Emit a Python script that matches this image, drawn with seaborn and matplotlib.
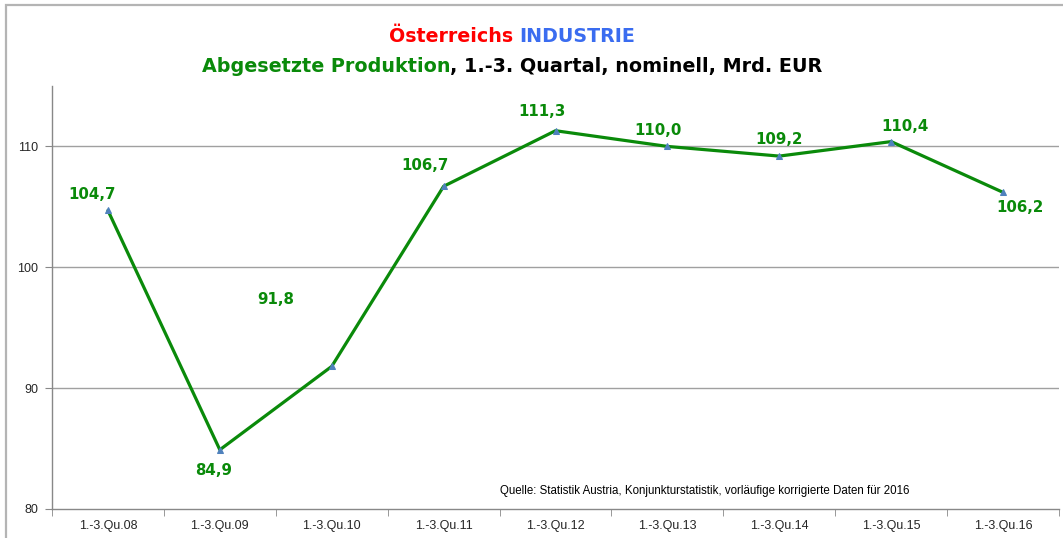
import matplotlib
matplotlib.use("Agg")
import matplotlib.pyplot as plt
import seaborn as sns
import pandas as pd
from matplotlib.patches import Rectangle
from matplotlib.ticker import FixedLocator

# data
quarters = ['1.-3.Qu.08', '1.-3.Qu.09', '1.-3.Qu.10', '1.-3.Qu.11', '1.-3.Qu.12',
            '1.-3.Qu.13', '1.-3.Qu.14', '1.-3.Qu.15', '1.-3.Qu.16']
produktion = [104.7, 84.9, 91.8, 106.7, 111.3, 110.0, 109.2, 110.4, 106.2]
y_ticks = [80, 90, 100, 110]

# label offsets in pixels (dx, dy) from the point
offsets = [(-16, 16), (-6, -21), (-56, 67), (-19, 21), (-14, 19),
           (-9, 16), (0, 17), (14, 15), (17, -15)]

sns.set_style("white")
plt.rcParams['font.family'] = ['DejaVu Sans']

W, H = 1063, 538
fig = plt.figure(figsize=(W / 100, H / 100), dpi=100)

# outer chart frame (only left and top visible)
fig.patches.append(Rectangle((6 / W, -0.1), 1.2, (H - 5) / H + 0.1, transform=fig.transFigure,
                             fill=False, edgecolor='#b4b4b4', linewidth=1.6))

ax = fig.add_axes([52 / W, (H - 509) / H, (1059 - 52) / W, (509 - 86) / H])

df = pd.DataFrame({'pos': range(len(quarters)), 'wert': produktion})
sns.lineplot(data=df, x='pos', y='wert', ax=ax, color='#0a8a0a', linewidth=2.3,
             marker='^', markersize=5, markerfacecolor='#4f81bd', markeredgecolor='#4f81bd')

ax.set_xlim(-0.5, len(quarters) - 0.5)
ax.set_ylim(80, 115)
ax.set_yticks(y_ticks)
ax.set_yticklabels([str(v) for v in y_ticks], fontsize=9, family='Liberation Sans')
ax.set_xticks(range(len(quarters)))
ax.set_xticklabels(quarters, fontsize=9, family='Liberation Sans')
ax.xaxis.set_minor_locator(FixedLocator([i - 0.5 for i in range(len(quarters) + 1)]))
ax.tick_params(axis='x', which='major', length=0, pad=8)
ax.tick_params(axis='x', which='minor', length=5, color='#888888', direction='out', bottom=True)
ax.tick_params(axis='y', length=5, color='#888888', direction='out', pad=5, left=True)
ax.set_xlabel('')
ax.set_ylabel('')

for s in ['top', 'right']:
    ax.spines[s].set_visible(False)
for s in ['left', 'bottom']:
    ax.spines[s].set_color('#888888')
    ax.spines[s].set_linewidth(1.0)

for v in y_ticks[1:]:
    ax.axhline(v, color='#a0a0a0', linewidth=1.0, zorder=0)

# data labels
for i, v in enumerate(produktion):
    dx, dy = offsets[i]
    ax.annotate(f"{v:.1f}".replace('.', ','), (i, v), xytext=(dx * 0.72, dy * 0.72),
                textcoords='offset points', ha='center', va='center',
                fontsize=10.8, fontweight='bold', color='#0a8a0a')

# source note
fig.text(500 / W, 1 - 491 / H,
         'Quelle: Statistik Austria, Konjunkturstatistik, vorläufige korrigierte Daten für 2016',
         fontsize=8.3, family='Liberation Sans', ha='left', va='center', color='black')

# titles, built from colored pieces
renderer = fig.canvas.get_renderer()


def title_line(pieces, y, size):
    texts = []
    for txt, col in pieces:
        t = fig.text(0, 1 - y / H, txt, color=col, fontsize=size, fontweight='bold',
                     ha='left', va='center')
        texts.append(t)
    widths = [t.get_window_extent(renderer).width for t in texts]
    total = sum(widths)
    x = 512 - total / 2
    for t, w in zip(texts, widths):
        t.set_x(x / W)
        x += w


title_line([('Österreichs ', '#ff0000'), ('INDUSTRIE', '#3a6cf0')], 36, 13.7)
title_line([('Abgesetzte Produktion', '#0a8a0a'), (', 1.-3. Quartal, nominell, Mrd. EUR', '#000000')], 66, 13.8)

fig.savefig('out.png', dpi=100)
